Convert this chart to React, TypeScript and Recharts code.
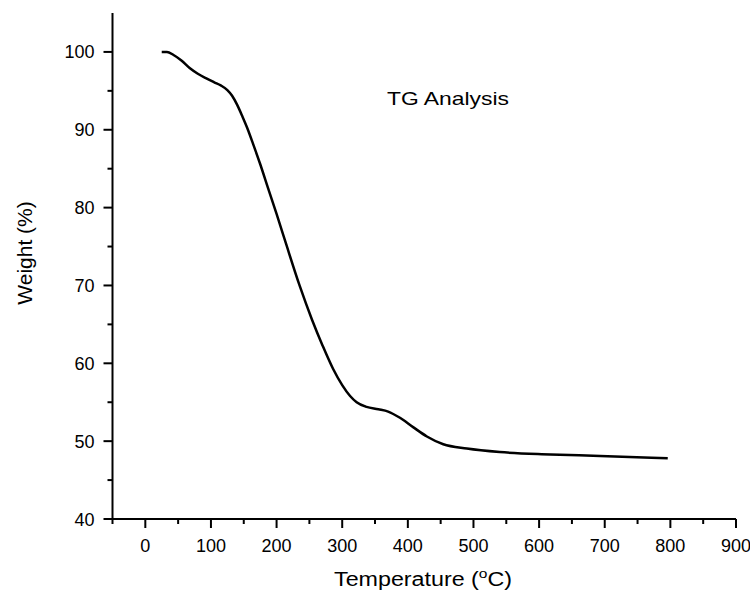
import React from 'react';
import { LineChart, Line, XAxis, YAxis, Customized } from 'recharts';

const temperature = [25, 33, 43, 55, 68, 80, 93, 105, 115, 125, 132, 140, 148, 155, 165, 175, 187, 200, 215, 235, 254, 270, 286, 300, 312, 322, 337, 355, 370, 388, 408, 429, 454, 490, 540, 617, 693, 796];
const weight = [100, 100, 99.6, 98.9, 97.9, 97.2, 96.6, 96.1, 95.7, 95.1, 94.4, 93.2, 91.7, 90.3, 88.0, 85.6, 82.5, 79.2, 75.2, 70.0, 65.6, 62.3, 59.3, 57.2, 55.8, 55.0, 54.4, 54.1, 53.8, 53.0, 51.8, 50.6, 49.6, 49.05, 48.6, 48.3, 48.1, 47.8];

const xTicks = [-50, 0, 50, 100, 150, 200, 250, 300, 350, 400, 450, 500, 550, 600, 650, 700, 750, 800, 850, 900];
const yTicks = [40, 45, 50, 55, 60, 65, 70, 75, 80, 85, 90, 95, 100];

const data = temperature.map((t, i) => ({ t, w: weight[i] }));

const FONT = '"Liberation Sans", Arial, sans-serif';

const XTick = (props: any) => {
  const { x, y, payload } = props;
  const v = payload.value;
  const major = v % 100 === 0;
  return (
    <g>
      <line x1={x} x2={x} y1={y} y2={y + (major ? 9 : 5)} stroke="#000" strokeWidth={2} />
      {major && (
        <text x={x} y={y + 33} textAnchor="middle" fontFamily={FONT} fontSize={18} fill="#000">
          {v}
        </text>
      )}
    </g>
  );
};

const YTick = (props: any) => {
  const { x, y, payload } = props;
  const v = payload.value;
  const major = v % 10 === 0;
  return (
    <g>
      <line x1={x - (major ? 9 : 5)} x2={x} y1={y} y2={y} stroke="#000" strokeWidth={2} />
      {major && (
        <text x={x - 18} y={y + 6.5} textAnchor="end" fontFamily={FONT} fontSize={18} fill="#000">
          {v}
        </text>
      )}
    </g>
  );
};

const Annotations = () => (
  <g fontFamily={FONT} fill="#000">
    <text x={387} y={105} fontSize={19} textLength={122} lengthAdjust="spacingAndGlyphs">TG Analysis</text>
    <text x={334} y={586} fontSize={19.5} textLength={178} lengthAdjust="spacingAndGlyphs">
      Temperature (<tspan fontSize={13} dy={-8}>o</tspan><tspan dy={8}>C)</tspan>
    </text>
    <text x={0} y={0} textAnchor="middle" fontSize={21} transform="translate(32,253) rotate(-90)">
      Weight (%)
    </text>
  </g>
);

export default function App() {
  return (
    <div style={{ position: 'absolute', left: 0, top: 0, background: '#fff' }}>
      <LineChart width={750} height={594} data={data} margin={{ top: 13, right: 14, left: 52.5, bottom: 0 }}>
        <XAxis
          dataKey="t"
          type="number"
          domain={[-50, 900]}
          ticks={xTicks}
          interval={0}
          height={75}
          tickSize={0}
          tickMargin={0}
          tickLine={false}
          axisLine={{ stroke: '#000', strokeWidth: 2 }}
          tick={<XTick />}
          allowDataOverflow
        />
        <YAxis
          type="number"
          domain={[40, 105]}
          ticks={yTicks}
          interval={0}
          width={60}
          tickSize={0}
          tickMargin={0}
          tickLine={false}
          axisLine={{ stroke: '#000', strokeWidth: 2 }}
          tick={<YTick />}
          allowDataOverflow
        />
        <Line
          dataKey="w"
          type="monotone"
          stroke="#000"
          strokeWidth={2.5}
          dot={false}
          isAnimationActive={false}
        />
        <Customized component={Annotations} />
      </LineChart>
    </div>
  );
}
